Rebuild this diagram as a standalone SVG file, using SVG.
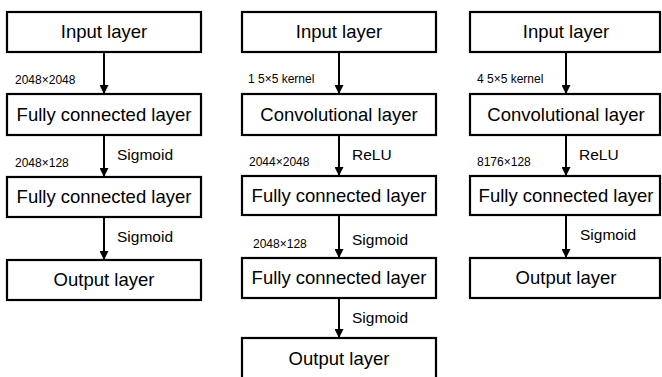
<svg xmlns="http://www.w3.org/2000/svg" width="662" height="377" viewBox="0 0 662 377">
<style>
.box{fill:#fff;stroke:#000;stroke-width:2.2}
.t{font-family:"Liberation Sans",Arial,sans-serif;font-size:18.5px;fill:#000;text-anchor:middle}
.s{font-family:"Liberation Sans",Arial,sans-serif;font-size:12px;fill:#000}
.a{font-family:"Liberation Sans",Arial,sans-serif;font-size:15.5px;fill:#000}
.c{stroke:#000;stroke-width:2;fill:none;marker-end:url(#ah)}
</style>
<defs>
<marker id="ah" viewBox="0 0 10 10" refX="10" refY="5" markerWidth="4.5" markerHeight="4.5" orient="auto" markerUnits="strokeWidth">
<path d="M0,0 L10,5 L0,10 z" fill="#000"/>
</marker>
</defs>
<rect width="662" height="377" fill="#fff"/>
<g id="connectors">
<line class="c" x1="104" y1="52" x2="104" y2="94"/>
<line class="c" x1="104" y1="135" x2="104" y2="177"/>
<line class="c" x1="104" y1="217" x2="104" y2="260"/>
<line class="c" x1="339" y1="52" x2="339" y2="94"/>
<line class="c" x1="339" y1="135" x2="339" y2="176"/>
<line class="c" x1="339" y1="215" x2="339" y2="258"/>
<line class="c" x1="339" y1="298" x2="339" y2="338"/>
<line class="c" x1="566" y1="52" x2="566" y2="94"/>
<line class="c" x1="566" y1="135" x2="566" y2="176"/>
<line class="c" x1="566" y1="215" x2="566" y2="258"/>
</g>
<g id="labels">
<text class="s" x="15" y="84">2048×2048</text>
<text class="a" x="117" y="160">Sigmoid</text>
<text class="s" x="15" y="167">2048×128</text>
<text class="a" x="117" y="242">Sigmoid</text>
<text class="s" x="248" y="83">1 5×5 kernel</text>
<text class="a" x="352" y="160">ReLU</text>
<text class="s" x="249" y="166">2044×2048</text>
<text class="a" x="352" y="245">Sigmoid</text>
<text class="s" x="253" y="248">2048×128</text>
<text class="a" x="352" y="323">Sigmoid</text>
<text class="s" x="477" y="83">4 5×5 kernel</text>
<text class="a" x="579" y="160">ReLU</text>
<text class="s" x="477" y="166">8176×128</text>
<text class="a" x="580" y="240">Sigmoid</text>
</g>
<g id="c1_input"><rect class="box" x="7" y="12" width="194" height="40"/><text class="t" x="104" y="38">Input layer</text></g>
<g id="c1_fc1"><rect class="box" x="7" y="94" width="194" height="41"/><text class="t" x="104" y="121">Fully connected layer</text></g>
<g id="c1_fc2"><rect class="box" x="7" y="177" width="194" height="40"/><text class="t" x="104" y="203">Fully connected layer</text></g>
<g id="c1_output"><rect class="box" x="7" y="260" width="194" height="40"/><text class="t" x="104" y="286">Output layer</text></g>
<g id="c2_input"><rect class="box" x="242" y="12" width="194" height="40"/><text class="t" x="339" y="38">Input layer</text></g>
<g id="c2_conv"><rect class="box" x="242" y="94" width="194" height="41"/><text class="t" x="339" y="121">Convolutional layer</text></g>
<g id="c2_fc1"><rect class="box" x="242" y="176" width="194" height="39"/><text class="t" x="339" y="202">Fully connected layer</text></g>
<g id="c2_fc2"><rect class="box" x="242" y="258" width="194" height="40"/><text class="t" x="339" y="284">Fully connected layer</text></g>
<g id="c2_output"><rect class="box" x="242" y="338" width="194" height="45"/><text class="t" x="339" y="365">Output layer</text></g>
<g id="c3_input"><rect class="box" x="470" y="12" width="190" height="40"/><text class="t" x="566" y="38">Input layer</text></g>
<g id="c3_conv"><rect class="box" x="470" y="94" width="190" height="41"/><text class="t" x="566" y="121">Convolutional layer</text></g>
<g id="c3_fc"><rect class="box" x="470" y="176" width="190" height="39"/><text class="t" x="566" y="202">Fully connected layer</text></g>
<g id="c3_output"><rect class="box" x="470" y="258" width="190" height="40"/><text class="t" x="566" y="284">Output layer</text></g>
</svg>
